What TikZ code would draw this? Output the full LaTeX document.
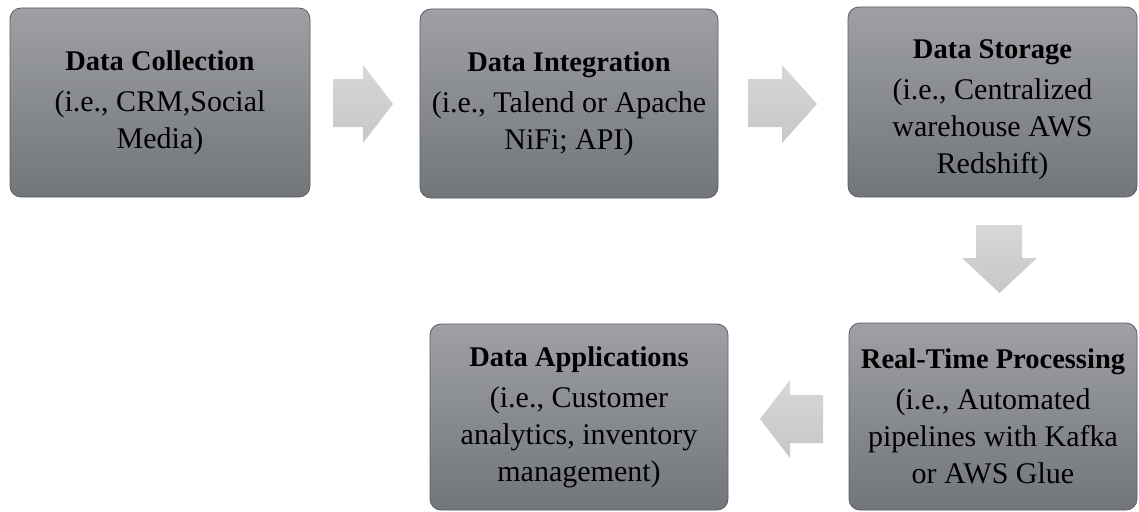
\documentclass[tikz,border=0pt]{standalone}
\usepackage{fontspec}
\setmainfont{Liberation Serif}
\definecolor{boxtop}{HTML}{9EA0A5}
\definecolor{boxbot}{HTML}{72757A}
\definecolor{boxline}{HTML}{5A5C61}
\definecolor{arrtop}{HTML}{D6D7D9}
\definecolor{arrbot}{HTML}{C6C7C9}
\newcommand{\stitle}[1]{{\fontsize{28.5}{37}\selectfont\bfseries #1}}
\tikzset{
  stagebox/.style={rectangle, rounded corners=11pt, draw=boxline, line width=0.8pt,
    top color=boxtop, bottom color=boxbot, align=center, inner sep=0pt,
    font=\fontsize{30}{37}\selectfont, text=black},
  blockarrow/.style={top color=arrtop, bottom color=arrbot, draw=none}
}
\begin{document}
\begin{tikzpicture}[x=1pt,y=-1pt]
\useasboundingbox (0,0) rectangle (1139,511);
\node[stagebox, minimum width=300pt, minimum height=189pt] (b1) at (160,102.5)
  {\stitle{Data Collection}\\[4pt](i.e., CRM,Social\\Media)};
\node[stagebox, minimum width=298pt, minimum height=189pt] (b2) at (569,103.5)
  {\stitle{Data Integration}\\[4pt](i.e., Talend or Apache\\NiFi; API)};
\node[stagebox, minimum width=289pt, minimum height=190pt] (b3) at (992.5,102)
  {\rule{0pt}{34pt}\stitle{Data Storage}\\[4pt](i.e., Centralized\\warehouse AWS\\Redshift)};
\node[stagebox, minimum width=288pt, minimum height=187pt] (b5) at (993,416.5)
  {\stitle{Real-Time Processing}\\[4pt](i.e., Automated\\pipelines with Kafka\\or AWS Glue};
\node[stagebox, minimum width=298pt, minimum height=186pt] (b4) at (579,417)
  {\stitle{Data Applications}\\[4pt](i.e., Customer\\analytics, inventory\\management)};
% block arrows
\path[blockarrow] (333,79) -- (363,79) -- (363,65) -- (393,104) -- (363,143) -- (363,127) -- (333,127) -- cycle;
\path[blockarrow] (748,79) -- (782,79) -- (782,65) -- (817,104) -- (782,143) -- (782,127) -- (748,127) -- cycle;
\path[blockarrow] (976,225) -- (1022,225) -- (1022,258) -- (1037,258) -- (999.5,293) -- (962,258) -- (976,258) -- cycle;
\path[blockarrow] (823,395) -- (790,395) -- (790,380) -- (760,419) -- (790,458) -- (790,443) -- (823,443) -- cycle;
\end{tikzpicture}
\end{document}
